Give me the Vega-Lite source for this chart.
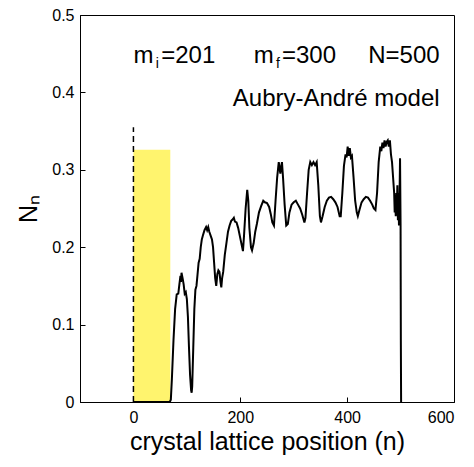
{
  "$schema": "https://vega.github.io/schema/vega-lite/v6.json",
  "width": 374,
  "height": 387,
  "autosize": "none",
  "padding": {"left": 80, "top": 15, "right": 20, "bottom": 65},
  "background": "white",
  "config": {
    "view": {"stroke": "black", "strokeWidth": 1},
    "font": "Liberation Sans",
    "axis": {
      "grid": false,
      "domainColor": "black",
      "tickColor": "black",
      "labelColor": "black",
      "titleColor": "black",
      "labelFont": "Liberation Sans",
      "titleFont": "Liberation Sans",
      "labelFontSize": 16,
      "titleFontSize": 25,
      "titleFontWeight": "normal"
    }
  },
  "datasets": {
    "curve": [
      {"n": 0, "v": 0}, {"n": 68, "v": 0}, {"n": 70, "v": 0.003}, {"n": 72, "v": 0.03}, {"n": 75, "v": 0.08},
      {"n": 78, "v": 0.12}, {"n": 81, "v": 0.139}, {"n": 84, "v": 0.14}, {"n": 86, "v": 0.152}, {"n": 88, "v": 0.163},
      {"n": 89, "v": 0.155}, {"n": 90, "v": 0.167}, {"n": 92, "v": 0.16}, {"n": 94, "v": 0.152}, {"n": 96, "v": 0.14},
      {"n": 98, "v": 0.142}, {"n": 100, "v": 0.133}, {"n": 102, "v": 0.11}, {"n": 104, "v": 0.07}, {"n": 106, "v": 0.035},
      {"n": 108, "v": 0.015}, {"n": 109, "v": 0.012}, {"n": 110, "v": 0.02}, {"n": 112, "v": 0.07}, {"n": 114, "v": 0.12},
      {"n": 116, "v": 0.145}, {"n": 118, "v": 0.15}, {"n": 120, "v": 0.165}, {"n": 122, "v": 0.18}, {"n": 124, "v": 0.185},
      {"n": 126, "v": 0.2}, {"n": 128, "v": 0.21}, {"n": 130, "v": 0.215}, {"n": 133, "v": 0.222}, {"n": 136, "v": 0.226},
      {"n": 138, "v": 0.222}, {"n": 140, "v": 0.226}, {"n": 142, "v": 0.22}, {"n": 145, "v": 0.214}, {"n": 147, "v": 0.21},
      {"n": 149, "v": 0.2}, {"n": 151, "v": 0.18}, {"n": 153, "v": 0.16}, {"n": 155, "v": 0.15}, {"n": 157, "v": 0.165},
      {"n": 159, "v": 0.17}, {"n": 161, "v": 0.168}, {"n": 163, "v": 0.155}, {"n": 164.5, "v": 0.148}, {"n": 166, "v": 0.16},
      {"n": 168, "v": 0.168}, {"n": 171, "v": 0.19}, {"n": 174, "v": 0.205}, {"n": 177, "v": 0.22}, {"n": 180, "v": 0.228},
      {"n": 183, "v": 0.234}, {"n": 186, "v": 0.236}, {"n": 188, "v": 0.238}, {"n": 190, "v": 0.233}, {"n": 193, "v": 0.232},
      {"n": 196, "v": 0.225}, {"n": 199, "v": 0.215}, {"n": 202, "v": 0.205}, {"n": 205, "v": 0.195}, {"n": 207, "v": 0.215},
      {"n": 210, "v": 0.25}, {"n": 213, "v": 0.274}, {"n": 215, "v": 0.26}, {"n": 217, "v": 0.225}, {"n": 220, "v": 0.2},
      {"n": 222, "v": 0.196}, {"n": 225, "v": 0.205}, {"n": 228, "v": 0.22}, {"n": 231, "v": 0.23}, {"n": 235, "v": 0.245},
      {"n": 239, "v": 0.253}, {"n": 243, "v": 0.26}, {"n": 246, "v": 0.258}, {"n": 250, "v": 0.257}, {"n": 254, "v": 0.252},
      {"n": 257, "v": 0.243}, {"n": 260, "v": 0.232}, {"n": 263, "v": 0.228}, {"n": 266, "v": 0.26}, {"n": 269, "v": 0.29},
      {"n": 272, "v": 0.31}, {"n": 274, "v": 0.3}, {"n": 275, "v": 0.295}, {"n": 276, "v": 0.302}, {"n": 278, "v": 0.31},
      {"n": 280, "v": 0.29}, {"n": 283, "v": 0.255}, {"n": 286, "v": 0.228}, {"n": 289, "v": 0.23}, {"n": 292, "v": 0.245},
      {"n": 296, "v": 0.255}, {"n": 300, "v": 0.258}, {"n": 304, "v": 0.26}, {"n": 308, "v": 0.255}, {"n": 312, "v": 0.25},
      {"n": 316, "v": 0.242}, {"n": 320, "v": 0.232}, {"n": 322, "v": 0.238}, {"n": 325, "v": 0.27}, {"n": 328, "v": 0.3},
      {"n": 331, "v": 0.31}, {"n": 334, "v": 0.306}, {"n": 337, "v": 0.31}, {"n": 340, "v": 0.306}, {"n": 343, "v": 0.31},
      {"n": 346, "v": 0.28}, {"n": 349, "v": 0.24}, {"n": 351, "v": 0.232}, {"n": 354, "v": 0.24}, {"n": 358, "v": 0.252},
      {"n": 362, "v": 0.26}, {"n": 366, "v": 0.264}, {"n": 370, "v": 0.265}, {"n": 374, "v": 0.262}, {"n": 378, "v": 0.258},
      {"n": 382, "v": 0.252}, {"n": 386, "v": 0.24}, {"n": 388, "v": 0.24}, {"n": 391, "v": 0.27}, {"n": 394, "v": 0.305},
      {"n": 397, "v": 0.32}, {"n": 399, "v": 0.316}, {"n": 401, "v": 0.33}, {"n": 403, "v": 0.318}, {"n": 405, "v": 0.328},
      {"n": 407, "v": 0.316}, {"n": 409, "v": 0.318}, {"n": 412, "v": 0.29}, {"n": 415, "v": 0.26}, {"n": 418, "v": 0.245},
      {"n": 420, "v": 0.24}, {"n": 423, "v": 0.248}, {"n": 427, "v": 0.258}, {"n": 431, "v": 0.262}, {"n": 435, "v": 0.265},
      {"n": 439, "v": 0.264}, {"n": 443, "v": 0.26}, {"n": 447, "v": 0.255}, {"n": 450, "v": 0.25}, {"n": 453, "v": 0.248},
      {"n": 456, "v": 0.27}, {"n": 459, "v": 0.31}, {"n": 462, "v": 0.33}, {"n": 464, "v": 0.324}, {"n": 466, "v": 0.335},
      {"n": 468, "v": 0.328}, {"n": 470, "v": 0.338}, {"n": 472, "v": 0.33}, {"n": 474, "v": 0.336}, {"n": 476, "v": 0.338},
      {"n": 478, "v": 0.33}, {"n": 480, "v": 0.338}, {"n": 482, "v": 0.32}, {"n": 484, "v": 0.31}, {"n": 486, "v": 0.29},
      {"n": 488, "v": 0.27}, {"n": 489, "v": 0.245}, {"n": 490, "v": 0.26}, {"n": 491, "v": 0.24}, {"n": 492, "v": 0.27},
      {"n": 493, "v": 0.25}, {"n": 494, "v": 0.28}, {"n": 495, "v": 0.235}, {"n": 496, "v": 0.27}, {"n": 497, "v": 0.228},
      {"n": 498, "v": 0.26}, {"n": 499, "v": 0.315}, {"n": 500, "v": 0.23}, {"n": 500.5, "v": 0.08}, {"n": 501, "v": 0}
    ],
    "box": [{"n0": 0, "n1": 69, "v0": 0, "v1": 0.326}],
    "marker": [{"n": 0, "v0": 0, "v1": 0.355}],
    "leftLabels": [
      {"n": 0, "v": 0.4384, "t": "m", "s": 24},
      {"n": 42, "v": 0.4311, "t": "i", "s": 14},
      {"n": 52, "v": 0.4384, "t": "=201", "s": 24},
      {"n": 225, "v": 0.4384, "t": "m", "s": 24},
      {"n": 267, "v": 0.4311, "t": "f", "s": 14},
      {"n": 278, "v": 0.4384, "t": "=300", "s": 24}
    ],
    "rightLabels": [
      {"n": 573, "v": 0.4384, "t": "N=500"},
      {"n": 573, "v": 0.3824, "t": "Aubry-André model"}
    ]
  },
  "layer": [
    {
      "data": {"name": "box"},
      "mark": {"type": "rect", "color": "#fff46e"},
      "encoding": {
        "x": {"field": "n0", "type": "quantitative", "scale": {"domain": [-100, 600], "nice": false},
          "axis": {"values": [0, 200, 400, 600], "tickSize": -5, "labelPadding": 12, "title": "crystal lattice position (n)", "titlePadding": 4}},
        "x2": {"field": "n1"},
        "y": {"field": "v0", "type": "quantitative", "scale": {"domain": [0, 0.5], "nice": false},
          "axis": {"values": [0, 0.1, 0.2, 0.3, 0.4, 0.5], "format": "~g", "tickSize": -5, "labelPadding": 11, "title": "Nₙ", "titlePadding": 10}},
        "y2": {"field": "v1"}
      }
    },
    {
      "data": {"name": "marker"},
      "mark": {"type": "rule", "color": "black", "strokeWidth": 1.5, "strokeDash": [6, 4]},
      "encoding": {
        "x": {"field": "n", "type": "quantitative"},
        "y": {"field": "v0", "type": "quantitative"},
        "y2": {"field": "v1"}
      }
    },
    {
      "data": {"name": "curve"},
      "mark": {"type": "line", "color": "black", "strokeWidth": 2},
      "encoding": {
        "x": {"field": "n", "type": "quantitative"},
        "y": {"field": "v", "type": "quantitative"}
      }
    },
    {
      "data": {"name": "leftLabels"},
      "mark": {"type": "text", "color": "black", "baseline": "alphabetic", "align": "left", "font": "Liberation Sans"},
      "encoding": {
        "x": {"field": "n", "type": "quantitative"},
        "y": {"field": "v", "type": "quantitative"},
        "text": {"field": "t"},
        "size": {"field": "s", "type": "quantitative", "scale": null, "legend": null}
      }
    },
    {
      "data": {"name": "rightLabels"},
      "mark": {"type": "text", "color": "black", "baseline": "alphabetic", "align": "right", "font": "Liberation Sans", "fontSize": 24},
      "encoding": {
        "x": {"field": "n", "type": "quantitative"},
        "y": {"field": "v", "type": "quantitative"},
        "text": {"field": "t"}
      }
    }
  ]
}
